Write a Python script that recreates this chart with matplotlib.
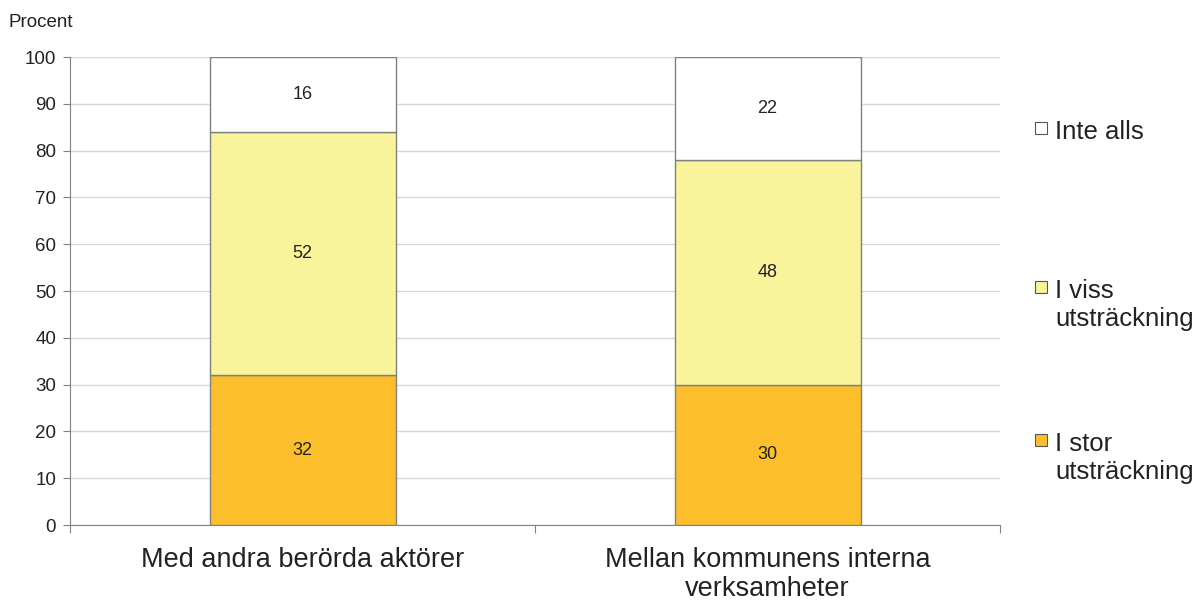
import numpy as np
import matplotlib.pyplot as plt
from matplotlib.patches import Rectangle

plt.rcParams['font.family'] = ['Liberation Sans', 'DejaVu Sans']

# Data
kategorier = ['Med andra berörda aktörer', 'Mellan kommunens interna\nverksamheter']
serier = ['I stor\nutsträckning', 'I viss\nutsträckning', 'Inte alls']
i_stor = [32, 30]
i_viss = [52, 48]
inte_alls = [16, 22]
farger = ['#FDBE2C', '#F9F39B', '#FFFFFF']

W, H = 1193, 601
fig = plt.figure(figsize=(W / 100, H / 100), dpi=100)
ax = fig.add_axes([70 / W, 1 - 525 / H, 930 / W, 468 / H])

x = np.arange(len(kategorier))
bredd = 0.4
botten = np.zeros(len(kategorier))
for varden, farg in zip([i_stor, i_viss, inte_alls], farger):
    staplar = ax.bar(x, varden, bredd, bottom=botten, color=farg,
                     edgecolor='#808080', linewidth=1, zorder=3)
    for s, v in zip(staplar, varden):
        ax.text(s.get_x() + s.get_width() / 2, s.get_y() + v / 2, str(v),
                ha='center', va='center', fontsize=13, color='#222222', zorder=4)
    botten += np.array(varden)

ax.set_xlim(-0.5, 1.5)
ax.set_ylim(0, 100)
ax.set_yticks(range(0, 101, 10))
ax.yaxis.grid(True, color='#d9d9d9', linewidth=1, zorder=0)
ax.tick_params(axis='y', labelsize=13.5, length=5, pad=5, color='#808080', labelcolor='#222222')

# x ticks at category boundaries, labels centered
ax.set_xticks([-0.5, 0.5, 1.5])
ax.set_xticklabels([])
ax.set_xticks(x, minor=True)
ax.set_xticklabels(kategorier, minor=True, fontsize=19.5, color='#222222', linespacing=1.12)
ax.tick_params(axis='x', which='major', length=6, color='#808080')
ax.tick_params(axis='x', which='minor', length=0, pad=16)

for side in ['top', 'right']:
    ax.spines[side].set_visible(False)
for side in ['left', 'bottom']:
    ax.spines[side].set_color('#808080')

fig.text(8 / W, 1 - 27 / H, 'Procent', fontsize=13.5, color='#222222', ha='left', va='baseline')

# Manual legend (top to bottom: Inte alls, I viss, I stor), y = cap top in pixels
legend_topp = [120, 279, 432]
for etikett, farg, yy in zip(serier[::-1], farger[::-1], legend_topp):
    fig.patches.append(Rectangle((1035 / W, 1 - (yy + 14) / H), 12 / W, 12 / H,
                                 transform=fig.transFigure, facecolor=farg,
                                 edgecolor='#555555', linewidth=0.8))
    fig.text(1055 / W, 1 - yy / H, etikett, fontsize=18.5, color='#222222',
             ha='left', va='top', linespacing=1.2)

fig.savefig('out.png', dpi=100)
